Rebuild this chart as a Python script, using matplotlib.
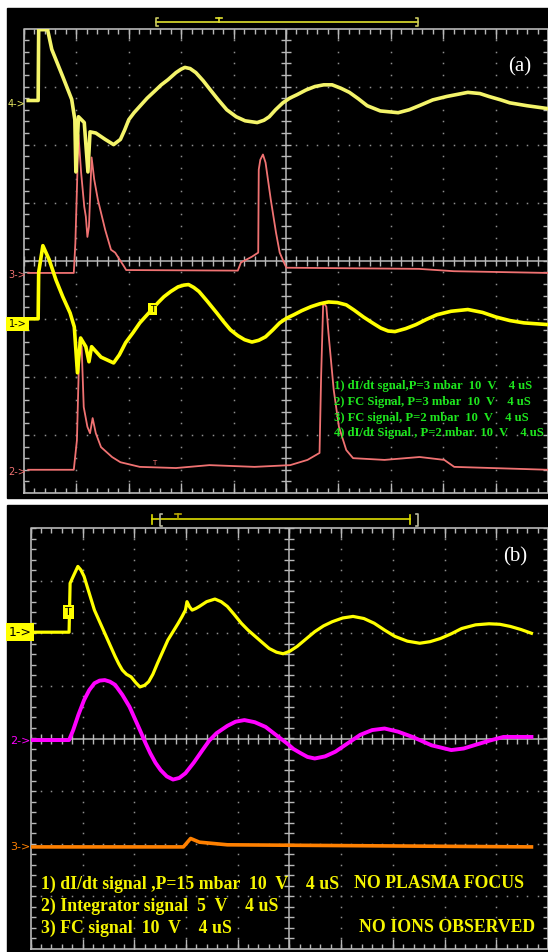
import numpy as np
import matplotlib
matplotlib.use("Agg")
import matplotlib.pyplot as plt
from matplotlib.patches import Rectangle
from matplotlib.lines import Line2D

# ---- data (screen divisions: time 0..10, volts -4..4) ----
# panel (a)
a_ch4_t = [0.08, 0.27, 0.28, 0.45, 0.53, 0.74, 0.91, 0.97, 0.99, 1.04, 1.15, 1.22, 1.26, 1.37,
           1.55, 1.71, 1.84, 1.92, 2.00, 2.10, 2.21, 2.35, 2.48, 2.62, 2.75, 2.90, 3.00, 3.07,
           3.17, 3.28, 3.42, 3.55, 3.70, 3.87, 4.05, 4.22, 4.45, 4.58, 4.68, 4.80, 4.94, 5.07,
           5.21, 5.38, 5.55, 5.72, 5.88, 6.05, 6.21, 6.38, 6.55, 6.80, 7.14, 7.35, 7.54, 7.80,
           8.07, 8.47, 8.70, 8.87, 9.10, 9.27, 9.60, 10.0]
a_ch4_v = [2.76, 2.76, 3.98, 3.98, 3.64, 3.17, 2.78, 2.43, 1.53, 2.48, 2.38, 1.53, 2.22, 2.20,
           2.09, 2.00, 2.09, 2.25, 2.43, 2.55, 2.66, 2.80, 2.91, 3.03, 3.12, 3.24, 3.30, 3.33,
           3.31, 3.24, 3.10, 2.95, 2.78, 2.60, 2.48, 2.41, 2.38, 2.42, 2.48, 2.60, 2.72, 2.80,
           2.86, 2.94, 3.00, 3.03, 3.03, 2.97, 2.90, 2.79, 2.67, 2.58, 2.55, 2.60, 2.67, 2.77,
           2.83, 2.90, 2.88, 2.83, 2.77, 2.72, 2.67, 2.62]

a_ch3_t = [0.08, 0.95, 0.98, 1.04, 1.09, 1.15, 1.18, 1.21, 1.24, 1.29, 1.34, 1.41, 1.55, 1.66,
           1.74, 1.91, 1.95, 4.08, 4.14, 4.35, 4.47, 4.48, 4.51, 4.56, 4.61, 4.71, 4.81, 4.88,
           4.98, 5.01, 7.54, 8.20, 10.0]
a_ch3_v = [-0.21, -0.21, 0.30, 2.17, 1.52, 0.93, 0.76, 0.41, 0.59, 1.78, 1.40, 1.05, 0.53, 0.19,
           0.14, -0.10, -0.16, -0.17, -0.03, 0.07, 0.14, 1.57, 1.74, 1.83, 1.69, 1.05, 0.48, 0.14,
           -0.07, -0.12, -0.14, -0.18, -0.21]

a_ch1_t = [0.08, 0.27, 0.28, 0.36, 0.48, 0.61, 0.74, 0.88, 0.96, 1.02, 1.08, 1.18, 1.24, 1.29,
           1.47, 1.71, 1.82, 1.94, 2.08, 2.21, 2.33, 2.44, 2.56, 2.67, 2.80, 2.94, 3.05, 3.14,
           3.24, 3.34, 3.50, 3.68, 3.81, 3.94, 4.08, 4.21, 4.35, 4.48, 4.61, 4.75, 4.88, 5.01,
           5.15, 5.30, 5.48, 5.65, 5.81, 5.98, 6.15, 6.30, 6.48, 6.65, 6.81, 6.95, 7.08, 7.28,
           7.48, 7.68, 7.88, 8.15, 8.47, 8.75, 9.01, 9.27, 9.54, 10.0]
a_ch1_v = [-1.00, -1.00, -0.20, 0.26, 0.02, -0.33, -0.62, -0.90, -1.14, -1.93, -1.33, -1.48,
           -1.74, -1.48, -1.66, -1.76, -1.62, -1.41, -1.24, -1.07, -0.95, -0.84, -0.72, -0.62,
           -0.53, -0.45, -0.42, -0.41, -0.46, -0.53, -0.70, -0.90, -1.05, -1.19, -1.29, -1.36,
           -1.40, -1.37, -1.31, -1.19, -1.07, -0.99, -0.93, -0.86, -0.79, -0.74, -0.71, -0.72,
           -0.76, -0.85, -0.97, -1.07, -1.16, -1.21, -1.22, -1.17, -1.10, -1.01, -0.93, -0.87,
           -0.84, -0.89, -0.97, -1.03, -1.07, -1.10]

a_ch2_t = [0.08, 0.95, 1.01, 1.06, 1.10, 1.14, 1.21, 1.26, 1.31, 1.37, 1.47, 1.68, 1.84, 2.21,
           2.90, 3.54, 4.40, 5.08, 5.41, 5.64, 5.67, 5.71, 5.77, 5.81, 5.91, 6.01, 6.15, 6.28,
           6.88, 7.55, 8.02, 8.21, 10.0]
a_ch2_v = [-3.60, -3.60, -3.09, -1.36, -1.48, -2.52, -2.86, -2.97, -2.71, -2.97, -3.21, -3.38,
           -3.47, -3.55, -3.57, -3.52, -3.55, -3.52, -3.43, -3.31, -2.00, -0.72, -0.79, -1.24,
           -2.22, -2.86, -3.26, -3.40, -3.43, -3.38, -3.43, -3.55, -3.60]

# panel (b)
b_ch1_t = [0.00, 0.74, 0.76, 0.82, 0.91, 0.97, 1.03, 1.13, 1.23, 1.33, 1.43, 1.53, 1.63, 1.70,
           1.77, 1.85, 1.94, 2.03, 2.11, 2.20, 2.28, 2.36, 2.45, 2.55, 2.65, 2.75, 2.85, 2.92,
           2.99, 3.02, 3.07, 3.12, 3.19, 3.26, 3.40, 3.56, 3.68, 3.80, 3.93, 4.07, 4.20, 4.34,
           4.48, 4.61, 4.75, 4.88, 5.01, 5.15, 5.32, 5.49, 5.66, 5.83, 6.03, 6.23, 6.44, 6.64,
           6.84, 7.04, 7.28, 7.52, 7.72, 7.92, 8.13, 8.33, 8.60, 8.86, 9.07, 9.27, 9.48, 9.68]
b_ch1_v = [2.02, 2.02, 2.95, 3.08, 3.27, 3.20, 3.08, 2.76, 2.44, 2.22, 2.00, 1.78, 1.56, 1.42,
           1.30, 1.22, 1.17, 1.06, 0.98, 1.01, 1.08, 1.22, 1.43, 1.65, 1.87, 2.03, 2.19, 2.31,
           2.44, 2.60, 2.50, 2.44, 2.47, 2.51, 2.60, 2.65, 2.60, 2.51, 2.36, 2.19, 2.06, 1.94,
           1.82, 1.71, 1.64, 1.61, 1.66, 1.75, 1.89, 2.03, 2.14, 2.22, 2.29, 2.32, 2.28, 2.19,
           2.06, 1.94, 1.85, 1.81, 1.84, 1.90, 1.99, 2.09, 2.16, 2.18, 2.17, 2.13, 2.07, 2.00]

b_ch2_t = [0.00, 0.74, 0.82, 0.92, 1.03, 1.13, 1.23, 1.33, 1.43, 1.53, 1.63, 1.77, 1.91, 2.01,
           2.11, 2.21, 2.31, 2.41, 2.51, 2.63, 2.75, 2.87, 2.99, 3.15, 3.32, 3.45, 3.59, 3.80,
           3.96, 4.13, 4.33, 4.54, 4.75, 4.95, 5.08, 5.22, 5.35, 5.49, 5.69, 5.89, 6.13, 6.37,
           6.60, 6.84, 7.10, 7.38, 7.75, 8.13, 8.37, 8.60, 8.87, 9.14, 9.68]
b_ch2_v = [-0.03, -0.03, 0.16, 0.45, 0.73, 0.92, 1.05, 1.10, 1.11, 1.08, 1.02, 0.83, 0.60, 0.38,
           0.16, -0.07, -0.28, -0.46, -0.60, -0.72, -0.78, -0.75, -0.66, -0.46, -0.22, -0.04,
           0.10, 0.24, 0.32, 0.35, 0.31, 0.22, 0.06, -0.09, -0.20, -0.28, -0.35, -0.38, -0.34,
           -0.25, -0.09, 0.07, 0.16, 0.19, 0.13, 0.03, -0.13, -0.22, -0.19, -0.12, -0.04, 0.03,
           0.03]

b_ch3_t = [0.00, 2.95, 3.09, 3.26, 3.80, 9.68]
b_ch3_v = [-2.06, -2.06, -1.90, -1.97, -2.02, -2.06]

a_notes = ["1) dI/dt sgnal,P=3 mbar  10  V    4 uS",
           "2) FC Signal, P=3 mbar  10  V    4 uS",
           "3) FC signal, P=2 mbar  10  V    4 uS",
           "4) dI/dt Signal , P=2 mbar  10  V    4 uS"]
b_notes = ["1) dI/dt signal ,P=15 mbar  10  V    4 uS",
           "2) Integrator signal  5  V    4 uS",
           "3) FC signal  10  V    4 uS"]

W, H = 548, 952
fig = plt.figure(figsize=(W / 100, H / 100), dpi=100)
fig.patch.set_facecolor("white")
SERIF = "Liberation Serif"


def fx(x):
    return x / W


def fy(y):
    return 1 - y / H


def box(x0, y0, x1, y1, color):
    fig.add_artist(Rectangle((fx(x0), fy(y1)), (x1 - x0) / W, (y1 - y0) / H,
                             transform=fig.transFigure, color=color, zorder=0))


def seg(xs, ys, color, lw=1.2):
    fig.add_artist(Line2D([fx(x) for x in xs], [fy(y) for y in ys], transform=fig.transFigure,
                          color=color, lw=lw, zorder=5))


def screen(l, t, r, b):
    ax = fig.add_axes([fx(l), fy(b), (r - l) / W, (b - t) / H])
    ax.set_xlim(0, 10)
    ax.set_ylim(-4, 4)
    ax.axis("off")
    g = "#8e8e8e"
    mx = np.arange(0, 10.001, 0.2)
    my = np.arange(-4, 4.001, 0.2)
    for gy in [-3, -2, -1, 1, 2, 3]:
        ax.plot(mx, np.full_like(mx, gy), ls="none", marker="s", ms=1.1, mew=0, color=g)
    for gx in [1, 2, 3, 4, 6, 7, 8, 9]:
        ax.plot(np.full_like(my, gx), my, ls="none", marker="s", ms=1.1, mew=0, color=g)
    kx = 5 / ((r - l) / 10)
    ky = 5 / ((b - t) / 8)
    c = "#b8b8b8"
    ax.plot([0, 10, 10, 0, 0], [-4, -4, 4, 4, -4], color=c, lw=1.2, clip_on=False)
    ax.plot([0, 10], [0, 0], color=c, lw=1.1)
    ax.plot([5, 5], [-4, 4], color=c, lw=1.1)
    ax.vlines(mx, -ky, ky, color=c, lw=1)
    ax.hlines(my, 5 - kx, 5 + kx, color=c, lw=1)
    ax.vlines(mx, 4 - ky, 4, color=c, lw=1)
    ax.vlines(mx, -4, -4 + ky, color=c, lw=1)
    ax.hlines(my, 0, kx, color=c, lw=1)
    ax.hlines(my, 10 - kx, 10, color=c, lw=1)
    ax.vlines(range(11), 4 - 2 * ky, 4, color=c, lw=1)
    ax.vlines(range(11), -4, -4 + 2 * ky, color=c, lw=1)
    return ax


# black screens
box(7, 8, 548, 498, "black")
box(7, 505, 548, 952, "black")

# ---------------- panel (a) ----------------
ax_a = screen(24, 28.5, 548, 493)
ax_a.plot(a_ch3_t, a_ch3_v, color="#f07272", lw=1.3, zorder=3)
ax_a.plot(a_ch2_t, a_ch2_v, color="#f07272", lw=1.3, zorder=3)
ax_a.plot(a_ch4_t, a_ch4_v, color="#f4f46a", lw=2.6, zorder=4, solid_joinstyle="round")
ax_a.plot(a_ch1_t, a_ch1_v, color="#ffff00", lw=2.6, zorder=4, solid_joinstyle="round")

fig.text(fx(519.5), fy(67), "(a)", color="white", fontsize=15, family=SERIF,
         ha="center", va="center")
for i, s in enumerate(a_notes):
    fig.text(fx(334), fy(386 + 15.8 * i), s, color="#1ee61e", fontsize=9.1, family=SERIF,
             weight="bold", ha="left", va="center")

fig.text(fx(8), fy(104), "4->", color="#e8e860", fontsize=7, va="center")
fig.text(fx(8), fy(275), "3->", color="#f07272", fontsize=7, va="center")
fig.text(fx(8), fy(472), "2->", color="#f07272", fontsize=7, va="center")
fig.text(fx(8.5), fy(324), "1->", color="black", fontsize=7, va="center",
         bbox=dict(boxstyle="square,pad=0.25", fc="#ffff00", ec="none"))
fig.text(fx(152.5), fy(309), "T", color="black", fontsize=6.5, ha="center", va="center",
         bbox=dict(boxstyle="square,pad=0.15", fc="#ffff00", ec="none"), zorder=6)
fig.text(fx(154), fy(463), "T", color="#f07272", fontsize=5, ha="center", va="center")

# trigger bar (a)
ybar = 21.7
seg([156, 418], [ybar, ybar], "#e2e230")
seg([158, 156, 156, 158], [17.5, 17.5, 25.5, 25.5], "#c8c860")
seg([416, 418, 418, 416], [17.5, 17.5, 25.5, 25.5], "#c8c860")
seg([219, 219], [17.5, ybar], "#e2e230")
seg([216, 222], [17.5, 17.5], "#e2e230")

# ---------------- panel (b) ----------------
ax_b = screen(30.8, 528, 548, 949)
ax_b.plot(b_ch3_t, b_ch3_v, color="#ff8000", lw=2.6, zorder=3)
ax_b.plot(b_ch2_t, b_ch2_v, color="#ff00ff", lw=2.8, zorder=3, solid_joinstyle="round")
ax_b.plot(b_ch1_t, b_ch1_v, color="#ffff00", lw=2.3, zorder=4, solid_joinstyle="round")

fig.text(fx(514.7), fy(556.7), "(b)", color="white", fontsize=15, family=SERIF,
         ha="center", va="center")
ys = [884, 906.5, 928]
FS = 12.8
for y, s in zip(ys, b_notes):
    fig.text(fx(41), fy(y), s, color="#f5f500", fontsize=FS, family=SERIF, weight="bold",
             ha="left", va="center")
fig.text(fx(524), fy(ys[0]), "NO PLASMA FOCUS", color="#f5f500", fontsize=FS, family=SERIF,
         weight="bold", ha="right", va="center")
fig.text(fx(535), fy(ys[2]), "NO IONS OBSERVED", color="#f5f500", fontsize=FS, family=SERIF,
         weight="bold", ha="right", va="center")

fig.text(fx(8.5), fy(632), "1->", color="black", fontsize=9, va="center",
         bbox=dict(boxstyle="square,pad=0.2", fc="#ffff00", ec="none"))
fig.text(fx(10), fy(741), "2->", color="#ff00ff", fontsize=8, va="center")
fig.text(fx(10), fy(847), "3->", color="#ff8000", fontsize=8, va="center")
fig.text(fx(68.5), fy(612), "T", color="black", fontsize=8, ha="center", va="center",
         bbox=dict(boxstyle="square,pad=0.15", fc="#ffff00", ec="none"), zorder=6)

# trigger bar (b)
ybar = 519.3
seg([152.3, 410], [ybar, ybar], "#e0e000")
seg([152.3, 152.3], [514.5, 524], "#e0e000")
seg([410, 410], [514.5, 524], "#e0e000")
seg([162, 160, 160, 162], [513.5, 513.5, 525.5, 525.5], "#b8b8a0")
seg([416.3, 418.3, 418.3, 416.3], [513.5, 513.5, 525.5, 525.5], "#b8b8a0")
seg([178.3, 178.3], [514, ybar], "#b8a800")
seg([175.3, 181.3], [514, 514], "#b8a800")

fig.savefig("out.png", dpi=100, facecolor="white")
